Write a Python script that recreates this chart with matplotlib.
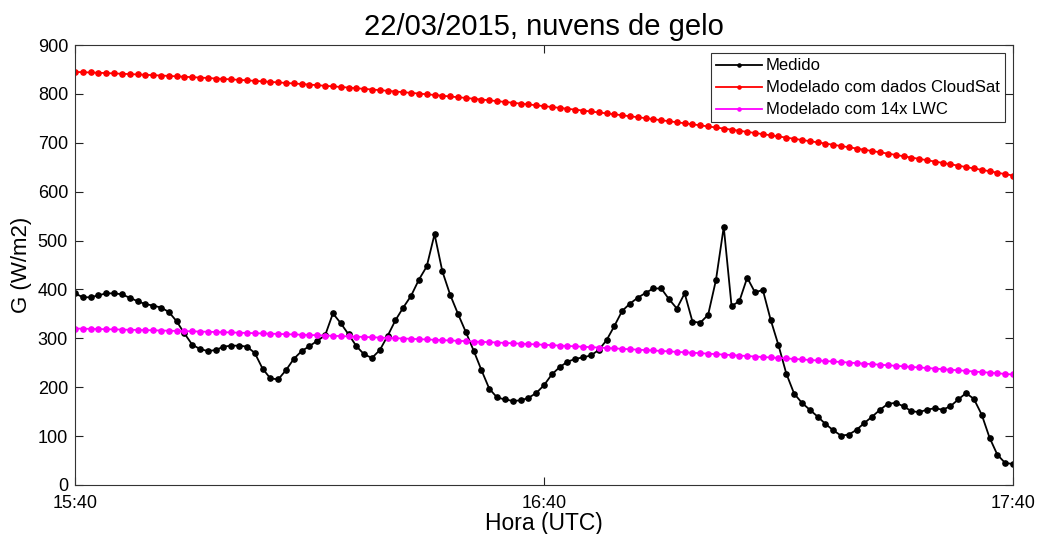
import matplotlib
matplotlib.use("Agg")
import matplotlib.pyplot as plt

plt.rcParams['font.family'] = ['Liberation Sans', 'DejaVu Sans']

# minutes after 15:40 UTC, one sample per minute
minutes = list(range(0, 121))

medido = [
    392, 384, 384, 388, 392, 392, 390, 383, 376, 370,
    367, 363, 354, 335, 310, 287, 278, 274, 276, 283,
    285, 285, 283, 270, 238, 218, 216, 235, 258, 274,
    284, 295, 306, 351, 331, 308, 284, 267, 260, 276,
    305, 337, 363, 387, 420, 447, 513, 437, 389, 350,
    313, 275, 235, 197, 179, 175, 172, 173, 178, 188,
    204, 226, 241, 252, 258, 261, 265, 276, 296, 325,
    356, 371, 383, 393, 402, 402, 380, 361, 392, 334,
    332, 348, 419, 528, 366, 376, 424, 394, 399, 338,
    286, 228, 187, 168, 154, 140, 125, 112, 101, 103,
    113, 127, 140, 154, 166, 168, 161, 151, 149, 154,
    157, 154, 161, 175, 188, 176, 144, 97, 62, 45,
    43,
]

cloudsat = [
    845.0, 844.4, 843.8, 843.2, 842.6, 841.9, 841.2, 840.5, 839.8, 839.1,
    838.3, 837.6, 836.8, 835.9, 835.1, 834.2, 833.4, 832.5, 831.5, 830.6,
    829.7, 828.7, 827.7, 826.7, 825.6, 824.6, 823.5, 822.4, 821.3, 820.2,
    819.0, 817.8, 816.6, 815.4, 814.2, 812.9, 811.6, 810.3, 809.0, 807.7,
    806.3, 804.9, 803.5, 802.1, 800.7, 799.2, 797.8, 796.3, 794.7, 793.2,
    791.7, 790.1, 788.5, 786.9, 785.2, 783.6, 781.9, 780.2, 778.5, 776.7,
    775.0, 773.2, 771.4, 769.6, 767.8, 765.9, 764.0, 762.1, 760.2, 758.3,
    756.3, 754.3, 752.3, 750.3, 748.3, 746.2, 744.1, 742.0, 739.9, 737.8,
    735.6, 733.5, 731.3, 729.1, 726.8, 724.6, 722.3, 720.0, 717.7, 715.3,
    713.0, 710.6, 708.2, 705.8, 703.3, 700.9, 698.4, 695.9, 693.4, 690.9,
    688.3, 685.7, 683.1, 680.5, 677.9, 675.2, 672.5, 669.8, 667.1, 664.4,
    661.6, 658.9, 656.1, 653.2, 650.4, 647.5, 644.7, 641.8, 638.9, 635.9,
    633.0,
]

lwc14 = [
    320.0, 319.7, 319.3, 319.0, 318.6, 318.3, 317.9, 317.5, 317.2, 316.8,
    316.4, 316.0, 315.6, 315.1, 314.7, 314.3, 313.8, 313.4, 312.9, 312.5,
    312.0, 311.5, 311.0, 310.5, 310.0, 309.5, 309.0, 308.5, 307.9, 307.4,
    306.8, 306.3, 305.7, 305.1, 304.6, 304.0, 303.4, 302.8, 302.2, 301.5,
    300.9, 300.3, 299.6, 299.0, 298.3, 297.7, 297.0, 296.3, 295.6, 294.9,
    294.2, 293.5, 292.8, 292.1, 291.4, 290.6, 289.9, 289.1, 288.3, 287.6,
    286.8, 286.0, 285.2, 284.4, 283.6, 282.8, 281.9, 281.1, 280.2, 279.4,
    278.5, 277.7, 276.8, 275.9, 275.1, 274.2, 273.2, 272.3, 271.4, 270.5,
    269.6, 268.6, 267.7, 266.7, 265.8, 264.8, 263.8, 262.8, 261.8, 260.8,
    259.8, 258.8, 257.8, 256.8, 255.7, 254.7, 253.6, 252.6, 251.5, 250.4,
    249.3, 248.2, 247.1, 246.0, 244.9, 243.8, 242.7, 241.5, 240.4, 239.3,
    238.1, 236.9, 235.8, 234.6, 233.4, 232.1, 230.9, 229.7, 228.5, 227.2,
    226.0,
]

xtick_pos = [0, 60, 120]
xtick_labels = ['15:40', '16:40', '17:40']
ytick_pos = list(range(0, 1000, 100))

fig = plt.figure(figsize=(10.4, 5.34), dpi=100)
ax = fig.add_axes([0.0721, 0.0918, 0.9019, 0.8239])

ax.plot(minutes, medido, '-', color='black', lw=1.3, marker='o', ms=3.8,
        label='Medido')
ax.plot(minutes, cloudsat, '-', color='#ff0000', lw=1.3, marker='o', ms=3.8,
        label='Modelado com dados CloudSat')
ax.plot(minutes, lwc14, '-', color='#ff00ff', lw=1.3, marker='o', ms=3.8,
        label='Modelado com 14x LWC')

ax.set_xlim(0, 120)
ax.set_ylim(0, 900)
ax.set_xticks(xtick_pos)
ax.set_xticklabels(xtick_labels)
ax.set_yticks(ytick_pos)
ax.tick_params(direction='in', top=True, right=True, length=6, width=0.8,
               labelsize=13, colors='#222222', labelcolor='black')
ax.tick_params(axis='x', pad=7)
ax.tick_params(axis='y', pad=5)
for s in ax.spines.values():
    s.set_linewidth(0.8)
    s.set_color('#333333')

ax.set_title('22/03/2015, nuvens de gelo', fontsize=21, pad=7)
ax.set_xlabel('Hora (UTC)', fontsize=16.5, labelpad=0)
ax.set_ylabel('G (W/m2)', fontsize=16, labelpad=4)

leg = ax.legend(loc='upper right', fontsize=12, frameon=True, fancybox=False,
                edgecolor='black', handlelength=2.8, handletextpad=0.2,
                borderpad=0.3, labelspacing=0.42, borderaxespad=0.5,
                markerscale=0.6)
leg.get_frame().set_linewidth(0.8)

fig.savefig('out.png', dpi=100, facecolor='white')
